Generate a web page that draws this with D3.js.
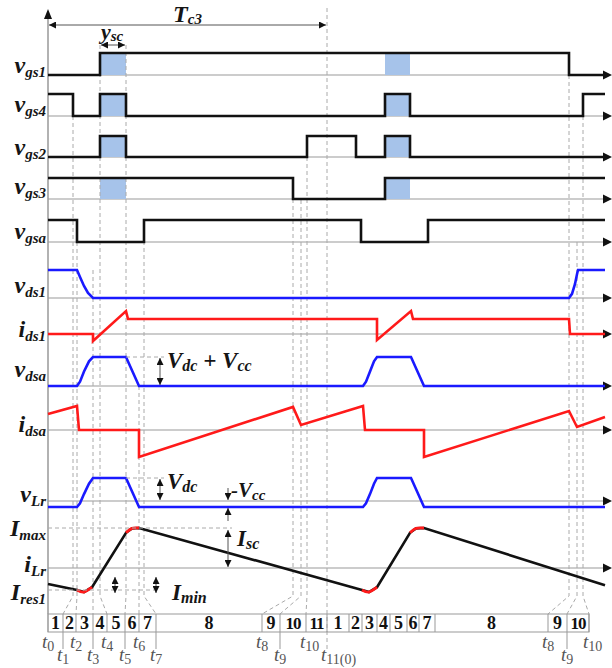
<!DOCTYPE html>
<html>
<head>
<meta charset="utf-8">
<script src="https://cdnjs.cloudflare.com/ajax/libs/d3/7.8.5/d3.min.js"></script>
<style>
body { margin: 0; background: #fff; }
svg { display: block; font-family: "Liberation Serif", "DejaVu Serif", serif; }
</style>
</head>
<body>
<div id="chart"></div>
<script>
// time in arbitrary units, Tc3 = 279
var tEnd = 557;
var tc3 = 279;

// gate signals (0 = low, 1 = high)
var vgs1 = [[0,0],[52,0],[52,1],[521,1],[521,0],[557,0]];
var vgs4 = [[0,1],[25,1],[25,0],[52,0],[52,1],[78,1],[78,0],[337,0],[337,1],[362,1],[362,0],[535,0],[535,1],[557,1]];
var vgs2 = [[0,0],[52,0],[52,1],[78,1],[78,0],[259,0],[259,1],[308,1],[308,0],[337,0],[337,1],[362,1],[362,0],[557,0]];
var vgs3 = [[0,1],[245,1],[245,0],[337,0],[337,1],[557,1]];
var vgsa = [[0,1],[29,1],[29,0],[96,0],[96,1],[313,1],[313,0],[380,0],[380,1],[557,1]];
var shortCircuit = [[52,78],[337,362]];

// voltages and currents (relative units)
var vds1 = [[0,1],[29,1],[32,0.75],[36,0.43],[40,0.18],[45,0],[521,0],[524,0.15],[527,0.5],[529,0.85],[530,1],[557,1]];
var ids1 = [[0,0],[45,0],[45,-0.47],[78,1.53],[80,1],[329,1],[329,-0.4],[363,1.53],[365,1],[521,1],[522,0],[557,0]];
var vdsa = [[0,0],[29,0],[32,0.15],[36,0.5],[41,0.85],[45,1],[78,1],[91,0],[315,0],[318,0.15],[322,0.5],[326,0.85],[329,1],[363,1],[376,0],[557,0]];
var idsa = [[0,0.67],[29,1],[31,0],[91,0],[91,-1.125],[245,0.96],[253,0.21],[315,1],[317,0],[376,0],[376,-1.125],[521,0.79],[529,0.125],[557,0.54]];
var vLr = [[0,-0.26],[29,-0.26],[32,-0.1],[36,0.3],[41,0.75],[45,1],[78,1],[91,-0.26],[315,-0.26],[318,-0.1],[322,0.3],[326,0.75],[329,1],[363,1],[376,-0.26],[557,-0.26]];
var iLr = [[0,-0.4],[29,-0.55],[36,-0.6],[44,-0.48],[78,0.88],[84,0.99],[91,1],[314,-0.55],[321,-0.6],[329,-0.48],[362,0.88],[368,0.99],[376,1],[557,-0.43]];
var iLrArcs = [
  [[29,-0.55],[36,-0.6],[44,-0.48]],
  [[78,0.88],[84,0.99],[91,1]],
  [[314,-0.55],[321,-0.6],[329,-0.48]],
  [[362,0.88],[368,0.99],[376,1]]
];
var iMin = -0.55, iMax = 1;

// instants marked by dashed lines, and where they land on the interval strip
var dashT = [25,29,45,52,78,91,96,245,253,259,279,521,529,535];
var dashStrip = [15,28,45,59,77,91,108,214,232,258,279,500,519,541];

// interval strip
var stripBounds = [0,15,28,45,59,77,91,108,214,232,258,279,301,314,329,342,359,371,387,500,519,541];
var stripNames = ["1","2","3","4","5","6","7","8","9","10","11","1","2","3","4","5","6","7","8","9","10"];
var tAt = [0,15,28,45,59,77,91,108,214,232,258,279,500,519,541];
var tNames = ["0","1","2","3","4","5","6","7","8","9","10","11(0)","8","9","10"];

// ---- layout ----
var waves = [vgs1, vgs4, vgs2, vgs3, vgsa, vds1, ids1, vdsa, idsa, vLr, iLr];
var waveColor = ["#111","#111","#111","#111","#111","#1a1aff","#ff1a1a","#1a1aff","#ff1a1a","#1a1aff","#111"];
var rowBase = [75,116,157,199,242,298,334,386,430,501,568];
var rowAmp = [22,22,21,21,22,28,15,29,24,23,40];
var dashTop = [116,242,270,45,45,386,220,199,200,157,8,75,242,116];

var names = [
  [["v",0],["gs1",1]], [["v",0],["gs4",1]], [["v",0],["gs2",1]], [["v",0],["gs3",1]], [["v",0],["gsa",1]],
  [["v",0],["ds1",1]], [["i",0],["ds1",1]], [["v",0],["dsa",1]], [["i",0],["dsa",1]], [["v",0],["Lr",1]],
  [["I",0],["max",1]], [["i",0],["Lr",1]], [["I",0],["res1",1]]
];
var nameY = [73,112,155,194,239,293,337,377,432,502,536,572,600];

var W = 612, H = 668;
var stripTop = 614, stripBot = 632, bend = 596;

var x = d3.scaleLinear().domain([0, tEnd]).range([48, 605]);
var y = rowBase.map(function(b, i) {
  return d3.scaleLinear().domain([0, 1]).range([b, b - rowAmp[i]]);
});

var svg = d3.select("#chart").append("svg")
  .attr("width", W).attr("height", H);

svg.append("defs").append("marker")
  .attr("id", "ah")
  .attr("viewBox", "0 0 10 10")
  .attr("refX", 10).attr("refY", 5)
  .attr("markerWidth", 7).attr("markerHeight", 7)
  .attr("markerUnits", "userSpaceOnUse")
  .attr("orient", "auto-start-reverse")
  .append("path").attr("d", "M0,0L10,5L0,10Z").attr("fill", "#111");

function label(sel, px, py, parts, o) {
  var t = sel.append("text")
    .attr("x", px).attr("y", py)
    .attr("text-anchor", o.anchor || "start")
    .attr("font-weight", o.weight || "bold")
    .attr("fill", o.color || "#151515");
  var prev = 0;
  parts.forEach(function(p) {
    var dy = (p[1] ? o.drop : 0) - (prev ? o.drop : 0);
    t.append("tspan")
      .attr("dy", dy)
      .attr("font-size", p[1] ? o.sub : o.size)
      .attr("font-style", p[1] ? (o.subStyle || "italic") : "italic")
      .text(p[0]);
    prev = p[1];
  });
  return t;
}

function arrowLine(x1, y1, x2, y2, both) {
  var l = svg.append("line")
    .attr("x1", x1).attr("y1", y1).attr("x2", x2).attr("y2", y2)
    .attr("stroke", "#555").attr("stroke-width", 1)
    .attr("marker-end", "url(#ah)");
  if (both) l.attr("marker-start", "url(#ah)");
}

function dashLine(x1, y1, x2, y2) {
  svg.append("line")
    .attr("x1", x1).attr("y1", y1).attr("x2", x2).attr("y2", y2)
    .attr("stroke", "#aaa").attr("stroke-width", 1)
    .attr("stroke-dasharray", "4,3");
}

// axes
svg.append("line")
  .attr("x1", x(0)).attr("x2", x(0)).attr("y1", 18).attr("y2", stripTop)
  .attr("stroke", "#999").attr("stroke-width", 1.5);
svg.append("path")
  .attr("d", "M" + x(0) + ",9L" + (x(0) - 4) + ",19L" + (x(0) + 4) + ",19Z")
  .attr("fill", "#111");

svg.selectAll(".axis")
  .data(rowBase)
  .enter()
  .append("line")
  .attr("x1", x(0)).attr("x2", 604)
  .attr("y1", function(d) { return d; }).attr("y2", function(d) { return d; })
  .attr("stroke", "#999").attr("stroke-width", 1.2);

svg.selectAll(".axhead")
  .data(rowBase)
  .enter()
  .append("path")
  .attr("d", function(d) { return "M603," + (d - 4.5) + "L612," + d + "L603," + (d + 4.5) + "Z"; })
  .attr("fill", "#111");

// short circuit shading
shortCircuit.forEach(function(s) {
  for (var r = 0; r < 4; r++) {
    svg.append("rect")
      .attr("x", x(s[0])).attr("width", x(s[1]) - x(s[0]))
      .attr("y", y[r](1)).attr("height", y[r](0) - y[r](1))
      .attr("fill", "#a6c3ea");
  }
});

// dashed instants with funnel into the strip
var funnel = d3.line();
dashT.forEach(function(t, i) {
  var pts;
  if (t === tc3) pts = [[x(t), dashTop[i]], [x(t), 652]];
  else pts = [[x(t), dashTop[i]], [x(t), bend], [x(dashStrip[i]), stripTop]];
  svg.append("path")
    .attr("d", funnel(pts))
    .attr("fill", "none")
    .attr("stroke", "#aaa").attr("stroke-width", 1)
    .attr("stroke-dasharray", "4,3");
});

// waveforms
waves.forEach(function(w, i) {
  var line = d3.line()
    .x(function(d) { return x(d[0]); })
    .y(function(d) { return y[i](d[1]); });
  svg.append("path")
    .attr("d", line(w))
    .attr("fill", "none")
    .attr("stroke", waveColor[i])
    .attr("stroke-width", 2.6)
    .attr("stroke-linejoin", "miter");
});

var arcLine = d3.line()
  .x(function(d) { return x(d[0]); })
  .y(function(d) { return y[10](d[1]); })
  .curve(d3.curveCardinal);
iLrArcs.forEach(function(a) {
  svg.append("path")
    .attr("d", arcLine(a))
    .attr("fill", "none")
    .attr("stroke", "#ff1a1a")
    .attr("stroke-width", 2.8);
});

// left labels
names.forEach(function(n, i) {
  label(svg, 46, nameY[i], n, { anchor: "end", size: 24, sub: 15, drop: 4 });
});

// Tc3 and short-circuit interval
arrowLine(x(0) + 1, 25, x(tc3) - 1, 25, true);
label(svg, x(tc3 / 2), 22, [["T",0],["c3",1]], { anchor: "middle", size: 24, sub: 15, drop: 2 });
arrowLine(x(shortCircuit[0][0]) + 1, 45, x(shortCircuit[0][1]) - 1, 45, true);
label(svg, x(shortCircuit[0][0]) + 1, 39, [["y",0],["sc",1]], { size: 22, sub: 15, drop: 2 });

// Vdc + Vcc
dashLine(x(78), y[7](1), 164, y[7](1));
arrowLine(160, y[7](1) + 1, 160, y[7](0) - 1, true);
label(svg, 167, 368, [["V",0],["dc",1],[" + ",0],["V",0],["cc",1]], { size: 23, sub: 16, drop: 3 });

// Vdc and -Vcc
dashLine(x(78), y[9](1), 164, y[9](1));
arrowLine(160, y[9](1) + 1, 160, y[9](0) - 1, true);
label(svg, 167, 489, [["V",0],["dc",1]], { size: 23, sub: 16, drop: 3 });
arrowLine(228, 488, 228, y[9](0) - 1, false);
arrowLine(228, 521, 228, y[9](-0.26) + 1, false);
label(svg, 231, 497, [["-V",0],["cc",1]], { size: 21, sub: 15, drop: 3 });

// Isc, Imin
dashLine(x(0), y[10](iMax), 232, y[10](iMax));
arrowLine(228, y[10](iMax) + 2, 228, y[10](0) - 1, true);
label(svg, 237, 546, [["I",0],["sc",1]], { size: 23, sub: 16, drop: 3 });
dashLine(x(0), y[10](iMin), 160, y[10](iMin));
[115, 156].forEach(function(px) {
  arrowLine(px, 577, px, 593, true);
});
label(svg, 172, 600, [["I",0],["min",1]], { size: 23, sub: 16, drop: 3 });

// interval strip
var strip = svg.append("g");
strip.append("rect")
  .attr("x", x(stripBounds[0])).attr("y", stripTop)
  .attr("width", x(stripBounds[stripBounds.length - 1]) - x(stripBounds[0]))
  .attr("height", stripBot - stripTop)
  .attr("fill", "none").attr("stroke", "#999");
strip.selectAll(".div")
  .data(stripBounds)
  .enter()
  .append("line")
  .attr("x1", function(d) { return x(d); }).attr("x2", function(d) { return x(d); })
  .attr("y1", stripTop).attr("y2", stripBot)
  .attr("stroke", "#999");
strip.selectAll(".num")
  .data(stripNames)
  .enter()
  .append("text")
  .attr("x", function(d, i) { return (x(stripBounds[i]) + x(stripBounds[i + 1])) / 2; })
  .attr("y", stripBot - 3)
  .attr("text-anchor", "middle")
  .attr("font-weight", "bold")
  .attr("font-size", function(d) { return d.length > 1 ? 17 : 18; })
  .attr("letter-spacing", function(d) { return d.length > 1 ? -1 : 0; })
  .attr("fill", "#111")
  .text(function(d) { return d; });

// instant labels t0 ... t10
tNames.forEach(function(n, i) {
  var odd = parseInt(n, 10) % 2 === 1;
  var px = x(tAt[i]);
  if (odd && tAt[i] !== tc3) {
    svg.append("line")
      .attr("x1", px).attr("x2", px).attr("y1", stripBot).attr("y2", 649)
      .attr("stroke", "#999");
  }
  label(svg, px - 6, odd ? 661 : 648, [["t",0],[n,1]],
    { size: 19, sub: 14, drop: 3, weight: "normal", color: "#555", subStyle: "normal" });
});
</script>
</body>
</html>
